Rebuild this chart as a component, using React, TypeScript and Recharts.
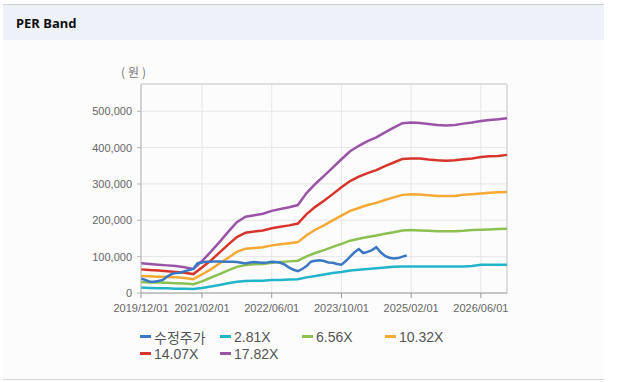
import React from "react";
import { LineChart, Line, XAxis, YAxis, CartesianGrid, ReferenceLine } from "recharts";

// month index 0 = 2019/12/01, monthly steps up to 84 = 2026/12/01
const tickIndices = [0, 14, 30, 46, 62, 78];
const tickLabels = ["2019/12/01", "2021/02/01", "2022/06/01", "2023/10/01", "2025/02/01", "2026/06/01"];
const yTicks = [0, 100000, 200000, 300000, 400000, 500000];

// band values sampled every 2 months (index 0,2,...,84)
const bandMonths = [0,2,4,6,8,10,12,14,16,18,20,22,24,26,28,30,32,34,36,38,40,42,44,46,48,50,52,54,56,58,60,62,64,66,68,70,72,74,76,78,80,82,84];

const band1782 = [82000,80000,78000,76000,74000,71000,66000,88000,113000,140000,168000,195000,210000,214000,218000,226000,231000,236000,242000,275000,300000,322000,345000,368000,390000,405000,418000,428000,442000,455000,467000,469000,468000,465000,462000,461000,462000,466000,469000,473000,476000,478000,481000];
const band1407 = [65000,63000,62000,60000,58000,56000,52000,70000,89000,111000,133000,154000,166000,169000,172000,178000,182000,186000,191000,217000,237000,254000,272000,291000,308000,320000,330000,338000,349000,359000,369000,370000,370000,367000,365000,364000,365000,368000,370000,374000,376000,377000,380000];
const band1032 = [47000,46000,45000,44000,43000,41000,38000,51000,65000,81000,97000,113000,122000,124000,126000,131000,134000,137000,140000,159000,174000,186000,200000,213000,226000,234000,242000,248000,256000,263000,270000,272000,271000,269000,267000,267000,267000,270000,272000,274000,276000,277000,278000];
const band656 = [30000,29000,29000,28000,27000,26000,24000,32000,42000,52000,62000,72000,77000,79000,80000,83000,85000,87000,89000,101000,110000,118000,127000,135000,144000,149000,154000,158000,163000,167000,172000,173000,172000,171000,170000,170000,170000,171000,173000,174000,175000,176000,177000];
const band281 = [15000,14000,13000,13000,12000,12000,11000,14000,18000,22000,27000,31000,33000,34000,34000,36000,36000,37000,38000,43000,47000,51000,55000,58000,62000,64000,66000,68000,70000,72000,73000,73000,73000,73000,73000,73000,73000,73000,74000,78000,78000,78000,78000];

// adjusted price, monthly from index 0
const adjPrice = [40000,36000,31000,31000,33000,36000,45000,52000,55000,56000,60000,63000,66000,82000,84000,86000,86000,87000,87000,86000,86000,86000,85000,83000,81000,84000,85000,84000,83000,84000,86000,85000,83000,78000,70000,64000,60000,66000,74000,86000,89000,90000,88000,84000,83000,80000,78000,88000,100000,112000,121000,110000,113000,118000,126000,112000,102000,97000,95000,96000,100000,103000];

const seriesNames = ["수정주가", "2.81X", "6.56X", "10.32X", "14.07X", "17.82X"];
const seriesKeys = ["price", "b281", "b656", "b1032", "b1407", "b1782"];
const seriesColors = ["#3b78c4", "#22b5c9", "#8cc152", "#f6a935", "#d7352b", "#9b53a8"];

const data: any[] = [];
for (let i = 0; i <= 84; i++) {
  const row: any = { i };
  if (i < adjPrice.length) row.price = adjPrice[i];
  const k = bandMonths.indexOf(i);
  if (k >= 0) {
    row.b281 = band281[k];
    row.b656 = band656[k];
    row.b1032 = band1032[k];
    row.b1407 = band1407[k];
    row.b1782 = band1782[k];
  }
  data.push(row);
}

const fmt = (v: number) => v.toLocaleString("en-US");
const FONT = '"Liberation Sans", Arial, "Noto Sans CJK KR", sans-serif';

export default function App() {
  return (
    <div style={{ position: "absolute", left: 0, top: 0, width: 617, height: 382, background: "#ffffff", fontFamily: FONT }}>
      <div style={{ position: "absolute", left: 3, top: 4, width: 601, height: 374, background: "#fcfcfc", borderTop: "1px solid #cfcfcf", borderBottom: "1px solid #d4d4d4" }} />
      <div style={{ position: "absolute", left: 3, top: 5, width: 601, height: 35, background: "#eef2f8" }} />
      <div style={{ position: "absolute", left: 16, top: 14, fontSize: 13, fontWeight: "bold", color: "#111", fontFamily: '"Noto Sans", "Liberation Sans", sans-serif' }}>PER Band</div>
      <div style={{ position: "absolute", left: 121, top: 63, fontSize: 12, letterSpacing: 3, color: "#777", fontFamily: '"Noto Sans CJK KR", sans-serif' }}>(원)</div>
      <div style={{ position: "absolute", left: 0, top: 0 }}>
        <LineChart width={617} height={382} data={data} margin={{ top: 84, right: 110, left: 81, bottom: 59 }}>
          <CartesianGrid stroke="#e6e6e6" strokeWidth={1} />
          <XAxis
            dataKey="i"
            type="number"
            domain={[0, 84]}
            ticks={tickIndices}
            tickFormatter={(v: number) => tickLabels[tickIndices.indexOf(v)] ?? ""}
            height={30}
            tickSize={5}
            tickMargin={6}
            stroke="#9a9a9a"
            tick={{ fill: "#666", fontSize: 11, fontFamily: FONT }}
            interval={0}
          />
          <YAxis
            type="number"
            domain={[0, 575000]}
            ticks={yTicks}
            tickFormatter={fmt}
            width={60}
            tickSize={4}
            tickMargin={5}
            stroke="#b5b5b5"
            tick={{ fill: "#666", fontSize: 11, fontFamily: FONT }}
            interval={0}
          />
          <ReferenceLine y={575000} stroke="#cccccc" ifOverflow="extendDomain" />
          <ReferenceLine x={84} stroke="#cccccc" />
          {[1, 2, 3, 4, 5, 0].map((s) => (
            <Line
              key={seriesKeys[s]}
              dataKey={seriesKeys[s]}
              name={seriesNames[s]}
              stroke={seriesColors[s]}
              strokeWidth={2.5}
              dot={false}
              activeDot={false}
              connectNulls
              isAnimationActive={false}
              type="linear"
            />
          ))}
        </LineChart>
      </div>
      <div style={{ position: "absolute", left: 140, top: 328, width: 330, display: "grid", gridTemplateColumns: "80px 82px 83px 80px", rowGap: 0, fontSize: 14, color: "#555", fontFamily: FONT }}>
        {[0, 1, 2, 3, 4, 5].map((s) => (
          <div key={s} style={{ display: "flex", alignItems: "center", height: 17, whiteSpace: "nowrap" }}>
            <span style={{ display: "inline-block", width: 11, height: 3, background: seriesColors[s], marginRight: 3 }} />
            <span>{seriesNames[s]}</span>
          </div>
        ))}
      </div>
    </div>
  );
}
